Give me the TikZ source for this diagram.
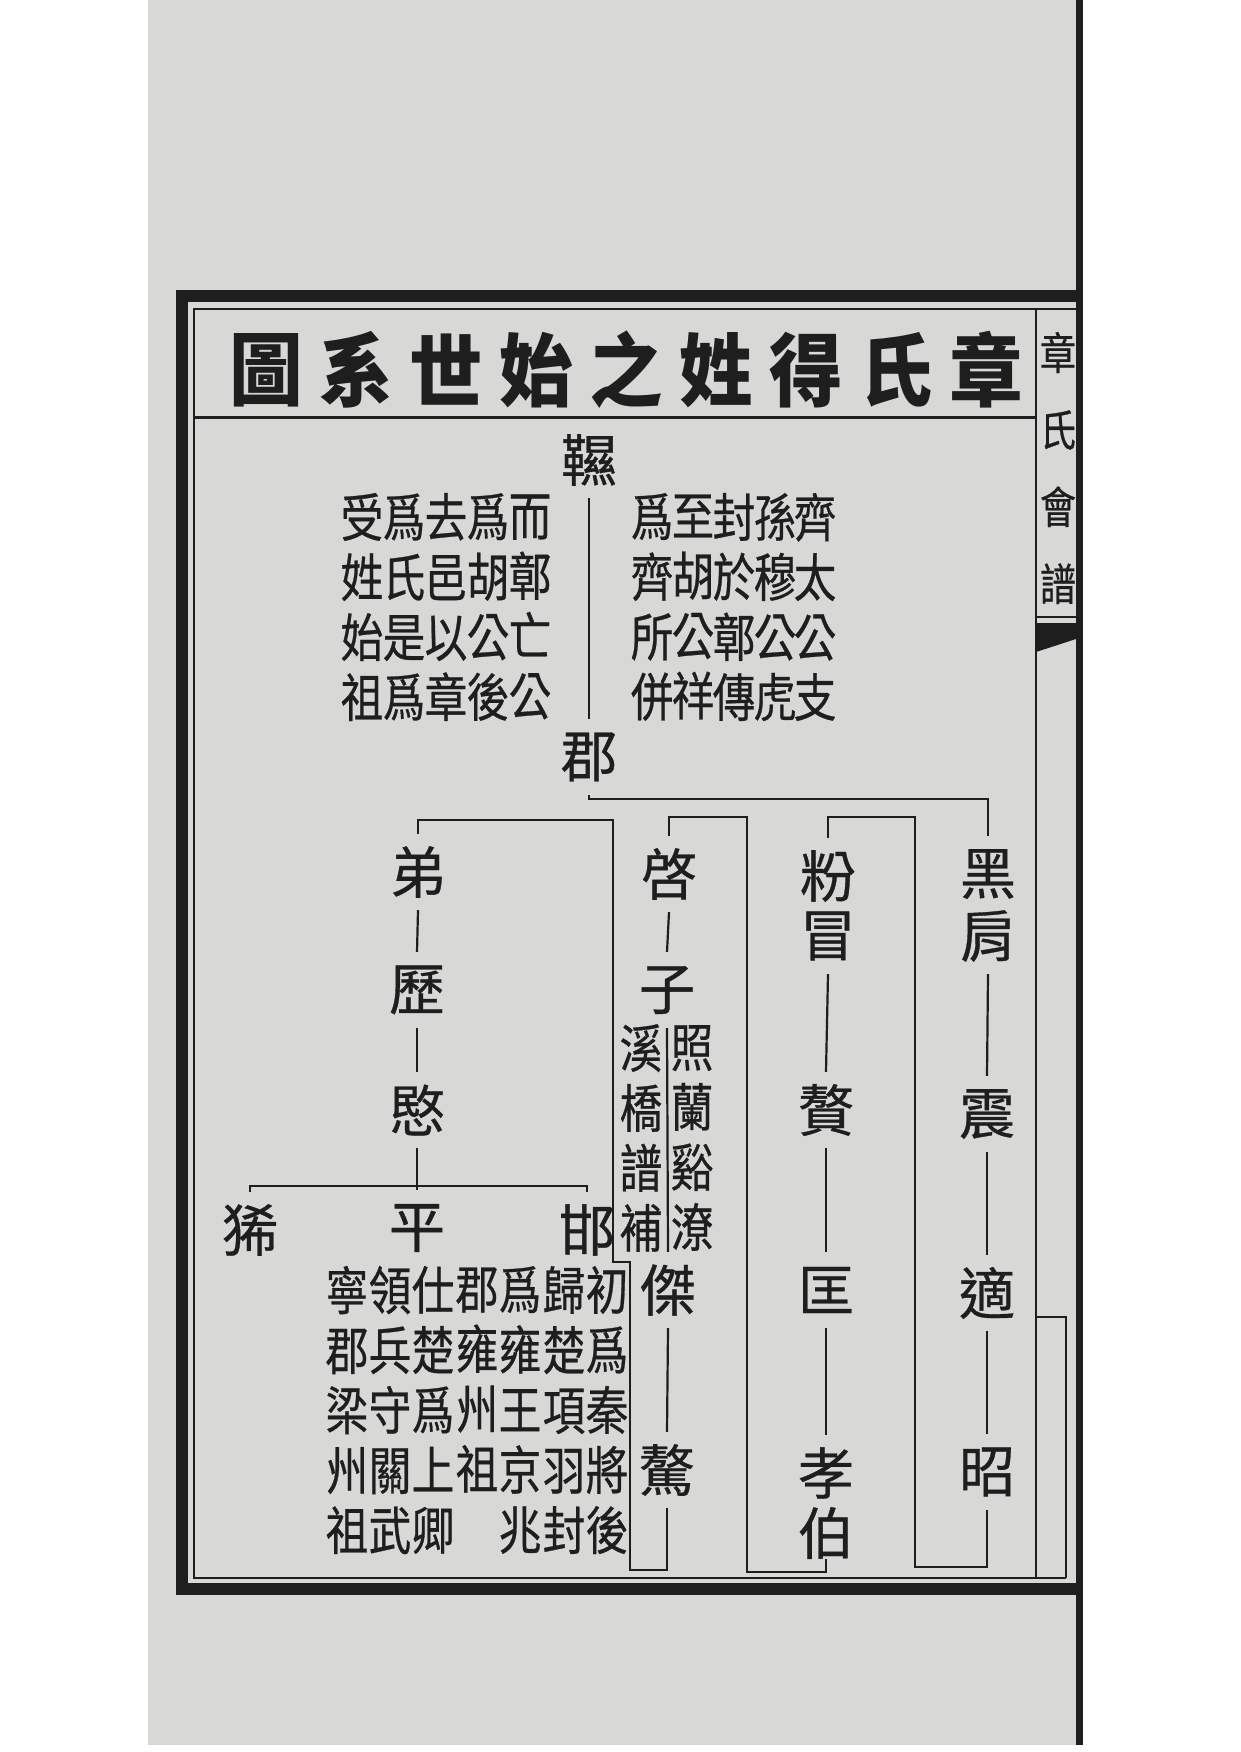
\documentclass[tikz,border=0pt]{standalone}
\usepackage{fontspec}
\setmainfont{Noto Sans CJK TC}
\newfontfamily\mingfont[FakeBold=0.6]{Noto Sans CJK TC}
\newfontfamily\notefont[FakeStretch=0.82,FakeBold=0.5]{Noto Sans CJK TC}
\newfontfamily\titlefont[FakeStretch=0.92]{Noto Sans CJK TC}
\definecolor{paper}{RGB}{216,216,214}
\definecolor{inkk}{RGB}{30,30,30}

\begin{document}
\begin{tikzpicture}[x=1pt,y=-1pt,
    every node/.style={inner sep=0pt,text=inkk},
    ming/.style={font=\mingfont\fontsize{56pt}{60pt}\selectfont,minimum height=76pt,minimum width=56pt},
    note/.style={font=\notefont\fontsize{52pt}{60pt}\selectfont,align=center},
    heading/.style={font=\titlefont\bfseries\fontsize{80pt}{80pt}\selectfont},
    link/.style={draw=inkk,line width=2.2pt}]
                \useasboundingbox (0,0) rectangle (1240,1752);
                \fill[white] (0,0) rectangle (1240,1752);
                \fill[paper] (148,0) rectangle (1078,1745);
                \fill[inkk] (1076,0) rectangle (1083,1745);

                \draw[inkk,line width=12pt] (1077,296) -- (182,296) -- (182,1589) -- (1077,1589);
                \draw[inkk,line width=2.5pt] (1076,309) -- (194,309) -- (194,1578) -- (1066,1578);
                \draw[inkk,line width=2.5pt] (1036,309) -- (1036,1578);
                \draw[inkk,line width=3pt] (194,417) -- (1036,417);
                \draw[inkk,line width=2pt] (1036,1317) -- (1066,1317) -- (1066,1578);
                \draw[inkk,line width=2pt] (1036,617) -- (1076,617);
                \fill[inkk] (1036,623) -- (1076,623) -- (1076,639) -- (1036,652) -- cycle;

                \foreach \c [count=\i] in {章,氏,得,姓,之,始,世,系,圖}
                    \node[heading] (t\i) at ({986-90*(\i-1)},370) {\c};
                \node[font=\notefont\fontsize{44pt}{77pt}\selectfont,align=center] (side) at (1058,468) {章\\氏\\會\\譜};

                \node[ming] (xian) at (589,460) {韅};
                \node[note] (nl1) at (530,607) {而\\鄣\\亡\\公};
                \node[note] (nl2) at (488,607) {爲\\胡\\公\\後};
                \node[note] (nl3) at (446,607) {去\\邑\\以\\章};
                \node[note] (nl4) at (404,607) {爲\\氏\\是\\爲};
                \node[note] (nl5) at (362,607) {受\\姓\\始\\祖};
                \node[note] (nr1) at (815,607) {齊\\太\\公\\支};
                \node[note] (nr2) at (775,607) {孫\\穆\\公\\虎};
                \node[note] (nr3) at (734,607) {封\\於\\鄣\\傳};
                \node[note] (nr4) at (693,607) {至\\胡\\公\\祥};
                \node[note] (nr5) at (652,607) {爲\\齊\\所\\併};
                \node[ming] (jun) at (589,757) {郡};

                \node[ming] (hei) at (988,874) {黑};
                \node[ming] (jian) at (988,936) {肩};
                \node[ming] (zhen) at (987,1114) {震};
                \node[ming] (shi) at (987,1293) {適};
                \node[ming] (zhao) at (987,1472) {昭};

                \node[ming] (fen) at (828,876) {粉};
                \node[ming] (mao) at (828,936) {冒};
                \node[ming] (zhui) at (826,1110) {贅};
                \node[ming] (kuang) at (826,1290) {匡};
                \node[ming] (xiao) at (826,1473) {孝};
                \node[ming] (bo) at (826,1533) {伯};

                \node[ming] (qi) at (669,874) {啓};
                \node[ming] (zi) at (667,990) {子};
                \node[note] (zr) at (692,1138) {照\\蘭\\谿\\潦};
                \node[note] (zl) at (641,1138) {溪\\橋\\譜\\補};
                \node[ming] (jie) at (668,1290) {傑};
                \node[ming] (ao) at (667,1470) {驁};

                \node[ming] (di) at (418,872) {弟};
                \node[ming] (li) at (417,990) {歷};
                \node[ming] (min) at (417,1110) {愍};
                \node[ming] (xi) at (250,1230) {狶};
                \node[ming] (ping) at (417,1228) {平};
                \node[ming] (han) at (587,1230) {邯};
                \node[note] (nh1) at (607,1410) {初\\爲\\秦\\將\\後};
                \node[note] (nh2) at (564,1410) {歸\\楚\\項\\羽\\封};
                \node[note] (nh3) at (520,1410) {爲\\雍\\王\\京\\兆};
                \node[note] (nh4) at (477,1380) {郡\\雍\\州\\祖};
                \node[note] (nh5) at (433,1410) {仕\\楚\\爲\\上\\卿};
                \node[note] (nh6) at (390,1410) {領\\兵\\守\\關\\武};
                \node[note] (nh7) at (347,1410) {寧\\郡\\梁\\州\\祖};

                \draw[link] (xian.south) -- (jun.north);
                \draw[link] (jun.south) -- ++(0,4) -| (hei.north);
                \draw[link] (jian.south) -- (zhen.north);
                \draw[link] (zhen.south) -- (shi.north);
                \draw[link] (shi.south) -- (zhao.north);
                \draw[link] (zhao.south) |- (915,1567) -- (915,817) -| (fen.north);
                \draw[link] (mao.south) -- (zhui.north);
                \draw[link] (zhui.south) -- (kuang.north);
                \draw[link] (kuang.south) -- (xiao.north);
                \draw[link] ([yshift=12pt]bo.south) |- (747,1572) -- (747,817) -| (qi.north);
                \draw[link] (qi.south) -- (zi.north);
                \draw[link] (zi.south) -- (jie.north);
                \draw[link] (jie.south) -- (ao.north);
                \draw[link] (ao.south) |- (630,1570) -- (630,1262) -- (613,1262) -- (613,820) -| (di.north);
                \draw[link] (di.south) -- (li.north);
                \draw[link] (li.south) -- (min.north);
                \draw[link] (min.south) -- (ping.north);
                \draw[link] (xi.north) -- ++(0,-6) -| (han.north);
\end{tikzpicture}
\end{document}
